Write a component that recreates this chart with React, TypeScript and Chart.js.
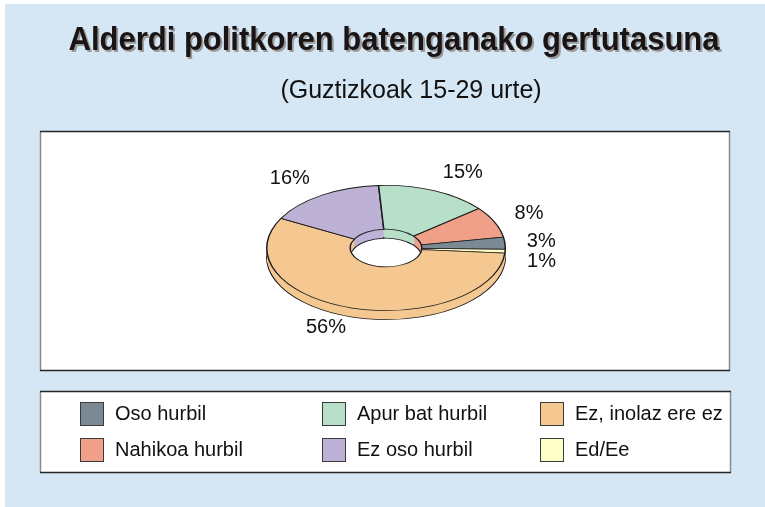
import { useEffect, useRef } from 'react';
import { Chart, registerables } from 'chart.js';

Chart.register(...registerables);

// ---- data ----
const TITLE = 'Alderdi politkoren batenganako gertutasuna';
const SUBTITLE = '(Guztizkoak 15-29 urte)';
const categories = ['Oso hurbil', 'Nahikoa hurbil', 'Apur bat hurbil', 'Ez oso hurbil', 'Ez, inolaz ere ez', 'Ed/Ee'];
const values = [3, 8, 15, 16, 56, 1];
const colors = ['#7a8994', '#f0a088', '#b7dfc9', '#bdb2d6', '#f5c891', '#ffffc8'];

// ---- layout / style ----
const W = 765;
const H = 507;
const CX = 386;
const CY = 248;
const R = 120;
const K = 63 / 120; // vertical squash of the tilted ring
const DEPTH = 9;
const FONT = '"Liberation Sans", Arial, Helvetica, sans-serif';

// pie goes the other way round than the legend
const pieLabels = [...categories].reverse();
const pieValues = [...values].reverse();
const pieColors = [...colors].reverse();

function drawBox(ctx: CanvasRenderingContext2D, x0: number, y0: number, x1: number, y1: number) {
  ctx.fillStyle = '#ffffff';
  ctx.fillRect(x0, y0, x1 - x0, y1 - y0);
  ctx.lineWidth = 1.5;
  ctx.strokeStyle = '#8a8a8a';
  ctx.beginPath();
  ctx.moveTo(x0 + 0.5, y0);
  ctx.lineTo(x0 + 0.5, y1);
  ctx.moveTo(x1 - 0.5, y0);
  ctx.lineTo(x1 - 0.5, y1);
  ctx.stroke();
  ctx.lineWidth = 1.5;
  ctx.strokeStyle = '#262626';
  ctx.beginPath();
  ctx.moveTo(x0, y0 + 0.5);
  ctx.lineTo(x1, y0 + 0.5);
  ctx.moveTo(x0, y1 - 0.5);
  ctx.lineTo(x1, y1 - 0.5);
  ctx.stroke();
}

const framePlugin = {
  id: 'frame',
  beforeDraw(chart: any) {
    const ctx: CanvasRenderingContext2D = chart.ctx;
    ctx.save();
    ctx.fillStyle = '#ffffff';
    ctx.fillRect(0, 0, W, H);
    ctx.fillStyle = '#d5e7f5';
    ctx.fillRect(5, 4, W - 5, H - 4);

    // title with shadow
    ctx.font = `bold 33px ${FONT}`;
    const tw = ctx.measureText(TITLE).width;
    const sx = Math.min(1, 651 / tw);
    ctx.save();
    ctx.translate(394, 50);
    ctx.scale(sx, 1);
    ctx.textAlign = 'center';
    ctx.textBaseline = 'alphabetic';
    ctx.fillStyle = '#9a9a9a';
    ctx.fillText(TITLE, 2, 2);
    ctx.fillStyle = '#1a1414';
    ctx.fillText(TITLE, 0, 0);
    ctx.restore();

    // subtitle
    ctx.font = `25px ${FONT}`;
    ctx.textAlign = 'center';
    ctx.fillStyle = '#111111';
    ctx.fillText(SUBTITLE, 411, 98);

    // plot area and legend boxes
    drawBox(ctx, 40, 131, 730, 371);
    drawBox(ctx, 40, 391, 731, 473);

    // legend (column-major)
    const colX = [80, 322, 540];
    const rowY = [402, 438];
    ctx.font = `20px ${FONT}`;
    ctx.textAlign = 'left';
    ctx.textBaseline = 'middle';
    categories.forEach((name, i) => {
      const x = colX[Math.floor(i / 2)];
      const y = rowY[i % 2];
      ctx.fillStyle = colors[i];
      ctx.fillRect(x, y, 24, 24);
      ctx.lineWidth = 1;
      ctx.strokeStyle = '#3a3a3a';
      ctx.strokeRect(x + 0.5, y + 0.5, 23, 23);
      ctx.fillStyle = '#111111';
      ctx.fillText(name, x + 35, y + 12);
    });
    ctx.restore();
  },
  beforeDatasetsDraw(chart: any) {
    const ctx: CanvasRenderingContext2D = chart.ctx;
    const arcs = chart.getDatasetMeta(0).data;
    if (!arcs.length) return false;
    const cx = arcs[0].x;
    const cy = arcs[0].y;
    const layer = (dy: number, border: boolean) => {
      ctx.save();
      ctx.translate(0, dy);
      ctx.translate(cx, cy);
      ctx.scale(1, K);
      ctx.translate(-cx, -cy);
      arcs.forEach((a: any) => {
        if (border) {
          a.draw(ctx, chart.chartArea);
        } else {
          const p = Object.create(a);
          p.options = { ...a.options, borderWidth: 0 };
          a.draw.call(p, ctx, chart.chartArea);
        }
      });
      ctx.restore();
    };
    layer(DEPTH, true);
    for (let d = DEPTH - 1; d >= 1; d--) layer(d, false);
    layer(0, true);
    return false;
  },
  afterDraw(chart: any) {
    const ctx: CanvasRenderingContext2D = chart.ctx;
    const arcs = chart.getDatasetMeta(0).data;
    ctx.save();
    ctx.font = `20px ${FONT}`;
    ctx.fillStyle = '#111111';
    ctx.textBaseline = 'middle';
    const items = arcs.map((a: any, i: number) => {
      const mid = (a.startAngle + a.endAngle) / 2;
      const c = Math.cos(mid);
      const s = Math.sin(mid);
      const outer = a.outerRadius;
      return {
        text: `${pieValues[i]}%`,
        x: a.x + c * (outer + 22),
        y: a.y + s * (outer * K + 20),
        align: c > 0.15 ? 'left' : c < -0.15 ? 'right' : 'center',
        side: c >= 0 ? 1 : -1,
      };
    });
    [1, -1].forEach((side) => {
      const group = items.filter((it: any) => it.side === side).sort((p: any, q: any) => p.y - q.y);
      for (let i = 1; i < group.length; i++) {
        if (group[i].y < group[i - 1].y + 20) group[i].y = group[i - 1].y + 20;
      }
    });
    items.forEach((it: any) => {
      ctx.textAlign = it.align;
      ctx.fillText(it.text, it.x, it.y);
    });
    ctx.restore();
  },
};

export default function App() {
  const ref = useRef<HTMLCanvasElement>(null);
  useEffect(() => {
    const canvas = ref.current;
    if (!canvas) return;
    const chart = new Chart(canvas, {
      type: 'doughnut',
      data: {
        labels: pieLabels,
        datasets: [
          {
            data: pieValues,
            backgroundColor: pieColors,
            borderColor: '#1e1e1e',
            borderWidth: 1.5,
          },
        ],
      },
      options: {
        responsive: false,
        animation: false,
        devicePixelRatio: 1,
        events: [],
        cutout: '30%',
        rotation: 91,
        layout: {
          padding: { left: CX - R, right: W - (CX + R), top: CY - R, bottom: H - (CY + R) },
        },
        plugins: {
          legend: { display: false },
          tooltip: { enabled: false },
          title: { display: false },
        },
      },
      plugins: [framePlugin],
    });
    return () => chart.destroy();
  }, []);
  return (
    <div style={{ position: 'absolute', left: 0, top: 0, width: W, height: H }}>
      <canvas ref={ref} width={W} height={H} style={{ display: 'block', width: W, height: H }} />
    </div>
  );
}
